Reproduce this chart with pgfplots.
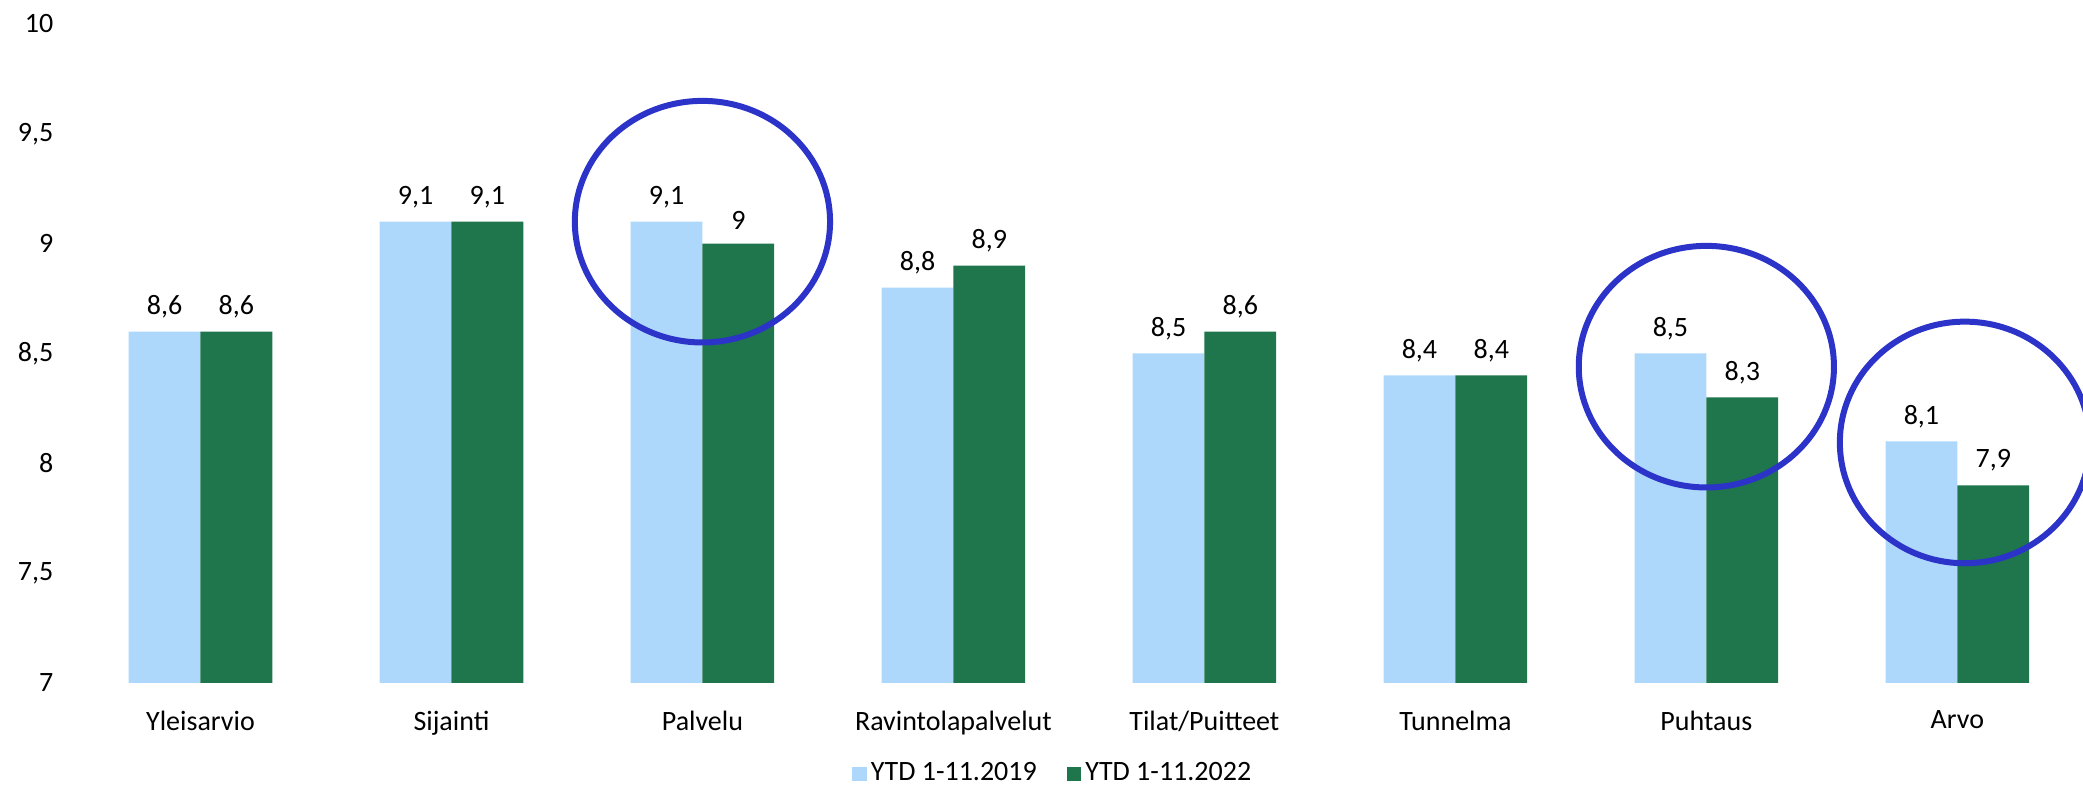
\documentclass[border=0pt]{standalone}
\usepackage{pgfplots}
\pgfplotsset{compat=1.18}
\usepackage{fontspec}
\setmainfont{Carlito}
\definecolor{lightb}{HTML}{ADD8FB}
\definecolor{darkg}{HTML}{1F754C}
\definecolor{circ}{HTML}{2B33C8}
\newcommand{\lf}{\fontsize{14pt}{16.5pt}\selectfont}
\begin{document}
\lf
\begin{tikzpicture}
\useasboundingbox (0,0) rectangle (1041.5pt,392.5pt);
\begin{axis}[
 at={(37.5pt,51pt)}, anchor=south west,
 scale only axis, width=1004pt, height=329.5pt,
 xmin=-0.5, xmax=7.5, ymin=7, ymax=10,
 ytick={7,7.5,8,8.5,9,9.5,10},
 xtick={0,...,7},
 xticklabels={Yleisarvio,Sijainti,Palvelu,Ravintolapalvelut,Tilat/Puitteet,Tunnelma,Puhtaus,Arvo},
 axis line style={draw=none},
 major tick length=0pt,
 /pgf/number format/use comma,
 /pgf/number format/assume math mode=true,
 yticklabel style={font=\lf, xshift=-6pt},
 xticklabel style={font=\lf, yshift=-9pt},
 ybar, bar width=35.9pt,
 nodes near coords,
 nodes near coords style={font=\lf, yshift=2pt, /pgf/number format/use comma, /pgf/number format/assume math mode=true},
 legend columns=2,
 legend style={draw=none, at={(0.4875,-0.138)}, anchor=center, font=\lf, /tikz/every even column/.append style={column sep=13pt}},
 legend image code/.code={\fill[#1,draw=none] (0pt,-3.65pt) rectangle (7.3pt,3.65pt);},
]
\addplot[fill=lightb, draw=none, bar shift=-17.95pt] coordinates {(0,8.6)(1,9.1)(2,9.1)(3,8.8)(4,8.5)(5,8.4)(6,8.5)(7,8.1)};
\addplot[fill=darkg, draw=none, bar shift=17.95pt] coordinates {(0,8.6)(1,9.1)(2,9)(3,8.9)(4,8.6)(5,8.4)(6,8.3)(7,7.9)};
\legend{YTD 1-11.2019, YTD 1-11.2022}
\coordinate (c1) at (axis cs:2,9.1);
\coordinate (c2) at (axis cs:6,8.44);
\coordinate (c3) at (axis cs:7.03,8.095);
\end{axis}
\draw[circ, line width=3pt] (c1) ellipse [x radius=63.8pt, y radius=60.4pt];
\draw[circ, line width=3pt] (c2) ellipse [x radius=63.8pt, y radius=60.4pt];
\draw[circ, line width=3pt] (c3) ellipse [x radius=62.5pt, y radius=60.4pt];
\end{tikzpicture}
\end{document}
